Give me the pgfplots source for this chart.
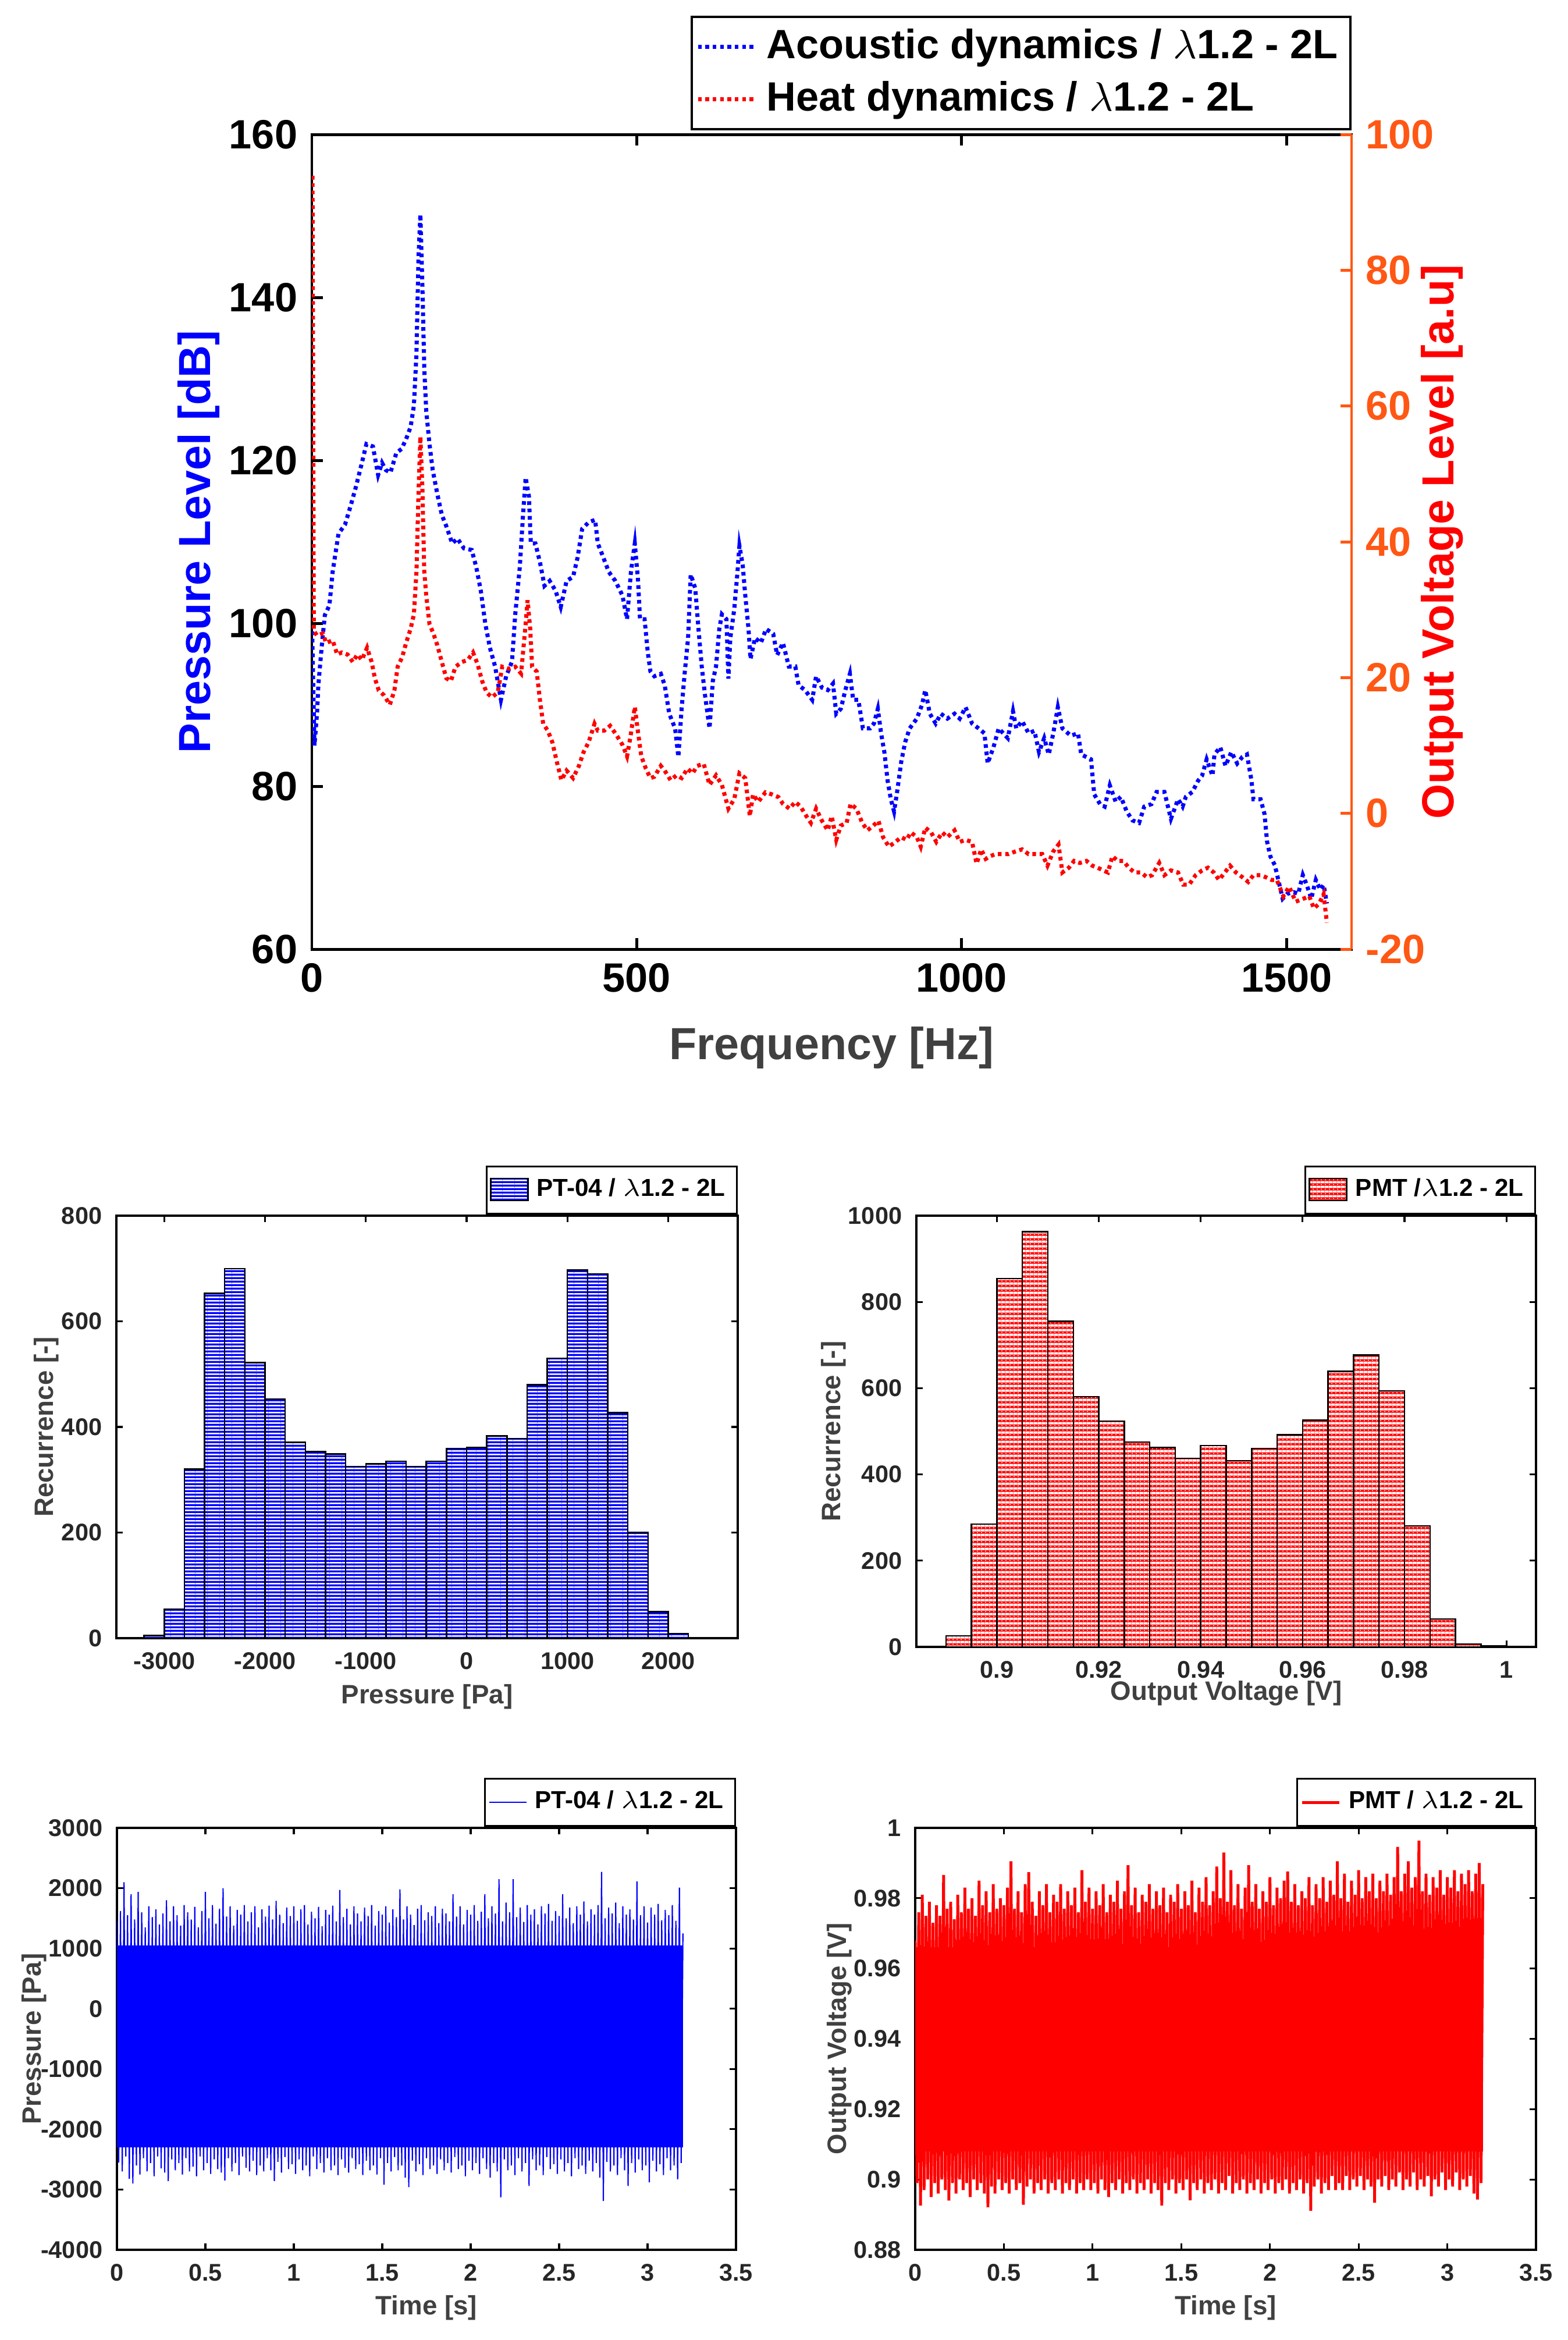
\documentclass[border=0pt]{standalone}
\usepackage{fontspec}
\setmainfont{Liberation Sans}
\usepackage{pgfplots}
\pgfplotsset{compat=1.18}
\usetikzlibrary{patterns}

\definecolor{axorange}{RGB}{255,87,20}
\definecolor{labgray}{RGB}{64,64,64}
\definecolor{tickblack}{RGB}{38,38,38}

% hatched fills of the two histograms
\pgfdeclarepatterninherentlycolored{bluehatch}{\pgfpointorigin}{\pgfpoint{3pt}{0.8pt}}{\pgfpoint{3pt}{0.8pt}}{%
  \pgfsetfillcolor{blue}\pgfpathrectangle{\pgfpointorigin}{\pgfpoint{3pt}{0.8pt}}\pgfusepath{fill}%
  \pgfsetfillcolor{white}\pgfpathrectangle{\pgfpointorigin}{\pgfpoint{3pt}{0.28pt}}\pgfusepath{fill}}
\pgfdeclarepatterninherentlycolored{redhatch}{\pgfpointorigin}{\pgfpoint{1pt}{1.1pt}}{\pgfpoint{1pt}{1.1pt}}{%
  \pgfsetfillcolor{red}\pgfpathrectangle{\pgfpointorigin}{\pgfpoint{1pt}{1.1pt}}\pgfusepath{fill}%
  \pgfsetfillcolor{white}\pgfpathrectangle{\pgfpointorigin}{\pgfpoint{1pt}{0.5pt}}\pgfusepath{fill}%
  \pgfpathrectangle{\pgfpoint{0pt}{0.75pt}}{\pgfpoint{0.3pt}{0.15pt}}\pgfusepath{fill}}

\pgfplotsset{
  mat/.style={
    scale only axis,
    /pgf/number format/assume math mode=true,
    /pgf/number format/1000 sep={},
    scaled ticks=false,
    tick align=inside,
    axis line style={line width=0.45pt, black},
    tick style={black, line width=0.45pt},
    major tick length=1.6pt,
    tick label style={font=\fontsize{5.9}{7}\selectfont\bfseries, text=tickblack},
    label style={font=\fontsize{6.5}{7.5}\selectfont\bfseries, text=labgray},
    legend style={font=\fontsize{6}{7}\selectfont\bfseries, draw=black, line width=0.45pt,
      at={(1,1)}, anchor=south east, inner sep=0.8pt, yshift=0.3pt},
    legend cell align=left,
  },
  histleg/.style={legend image code/.code={\draw[##1] (0cm,-0.09cm) rectangle (0.32cm,0.1cm);}},
  lineleg/.style={legend image code/.code={\draw[##1] (0cm,0cm) -- (0.32cm,0cm);}},
  ylabat/.style={ylabel style={at={(axis description cs:#1,0.5)}, anchor=center}},
  xlabat/.style={xlabel style={at={(axis description cs:0.5,#1)}, anchor=center}},
}

\begin{document}
\begin{tikzpicture}
\path (0,0) rectangle (13.475,-20.105);

% ---------- spectrum, left axis (dB) ----------
\begin{axis}[mat,
  at={(2.68cm,-1.155cm)}, anchor=north west, width=8.935cm, height=7cm,
  xmin=0, xmax=1600, ymin=60, ymax=160,
  xtick={0,500,1000,1500}, ytick={60,80,...,160}, ytick pos=left,
  major tick length=2.7pt,
  axis line style={line width=0.7pt},
  tick style={line width=0.7pt},
  tick label style={font=\fontsize{10}{12}\selectfont\bfseries, text=black},
  label style={font=\fontsize{11}{13}\selectfont\bfseries},
  xlabel={Frequency [Hz]}, ylabel={Pressure Level [dB]}, ylabel style={text=blue},
  ylabat=-0.109, xlabat=-0.121,
  legend style={font=\fontsize{10}{11}\selectfont\bfseries, line width=0.6pt, inner sep=1pt, yshift=0.7pt},
  legend image code/.code={\draw[#1] (0cm,0cm) -- (0.5cm,0cm);},
]
\addplot[blue, line width=1pt, dash pattern=on 0.9pt off 0.9pt] coordinates {
(0.5,99)(4,85)(8,89)(10,92.4)(15,97)(20,101)(27,102.2)(32,106.3)(41,111)(51,112.1)(60,114.5)
(68,116.8)(77,119.7)(84,122)(94,121.7)(102,118.2)(108,119.7)(114,118.8)(121,118.5)(130,120.9)
(138,121.4)(145,122.6)(152,124.1)(157,126.7)(161,133.1)(164,144.7)(167,150.2)(170,141.8)
(173,131.3)(176,126.1)(181,122)(186,118.8)(193,115.9)(200,113.3)(207,111.9)(216,109.8)
(224,110.4)(234,109.2)(246,109)(253,106.9)(260,104)(267,99.9)(274,97)(282,94.7)(291,90.6)
(299,93.5)(308,95.3)(313,101.1)(320,106.9)(325,113.3)(329,117.9)(334,115.6)(337,109.8)
(344,109.8)(351,107.5)(358,104.6)(366,105.2)(375,104)(383,102)(392,105.2)(402,105.7)
(409,108.1)(416,111.6)(426,112.4)(436,112.7)(440,109.8)(447,108.4)(457,106.3)(467,105.2)
(478,103.4)(485,100.5)(491,106.3)(497,109.8)(502,105.2)(505,100.5)(512,100.5)(517,96.4)
(521,94.1)(527,93.5)(537,93.8)(543,92.4)(550,88.9)(559,87.1)(564,83.6)(569,89.5)(574,94.1)
(579,98.2)(583,106)(590,104.3)(595,99.3)(600,94.7)(605,91.2)(612,87.1)(617,92.9)(622,94.7)
(627,99.3)(631,101.1)(638,100.5)(641,93.2)(644,98.2)(650,101.7)(655,106.3)(658,109.5)
(663,107.2)(667,103.4)(672,99.3)(675,95.6)(682,98.2)(691,97.6)(699,99.3)(710,98.7)(716,96.1)
(725,97.6)(734,94.7)(744,94.7)(749,92.4)(759,91.8)(770,90.6)(776,93.5)(785,92.1)(794,91.8)
(802,92.6)(807,88.9)(814,89.5)(821,91.8)(828,93.8)(833,90.6)(841,90.6)(848,87.1)(859,87.1)
(865,87.7)(871,89.5)(876,86.5)(881,84.2)(886,80.7)(891,78.4)(896,76.9)(901,79.5)(907,83)
(913,85.4)(920,87.1)(931,88.3)(939,90)(944,91.8)(951,88.9)(960,87.7)(968,88.9)(978,88.3)
(989,88.9)(997,88.3)(1006,89.7)(1016,87.7)(1026,87.1)(1035,86.5)(1040,82.8)(1049,84.8)
(1057,87.1)(1071,85.9)(1079,89.2)(1084,87.1)(1093,88)(1103,86.5)(1112,86.8)(1119,84.2)
(1127,85.9)(1134,83.9)(1141,86.5)(1148,89.7)(1155,87.1)(1168,86.2)(1179,86.5)(1184,83.9)
(1199,83.3)(1204,79)(1213,77.8)(1220,77.5)(1228,80.1)(1237,78.1)(1245,78.7)(1254,76.9)
(1263,75.8)(1273,75.5)(1281,77.5)(1292,77.8)(1300,79.3)(1312,79.3)(1322,76)(1333,78.4)
(1340,77.5)(1345,78.7)(1355,79.3)(1364,80.7)(1370,81.3)(1377,83.3)(1386,81.3)(1389,83.9)
(1398,84.8)(1406,82.5)(1415,84.2)(1424,82.8)(1432,83.6)(1439,83.9)(1446,80.7)(1449,78.4)
(1460,78.4)(1466,76.6)(1470,73.2)(1475,71.4)(1482,70.3)(1489,67.9)(1494,66.2)(1501,66.8)
(1511,67)(1518,66.8)(1525,69.1)(1531,67.9)(1538,66.2)(1545,68.5)(1552,67.3)(1557,67.9)(1562,65.6)
};
\addlegendentry{Acoustic dynamics / $\lambda$1.2 - 2L}
\addlegendimage{red, line width=1pt, dash pattern=on 0.9pt off 0.9pt}
\addlegendentry{Heat dynamics / $\lambda$1.2 - 2L}
\end{axis}

% ---------- spectrum, right axis (a.u.) ----------
\begin{axis}[mat,
  at={(2.68cm,-1.155cm)}, anchor=north west, width=8.935cm, height=7cm,
  xmin=0, xmax=1600, ymin=-20, ymax=100,
  axis x line=none, axis y line*=right,
  ytick={-20,0,...,100},
  major tick length=2.7pt,
  y axis line style={axorange, line width=0.5pt},
  ytick style={axorange, line width=0.7pt},
  tick label style={font=\fontsize{10}{12}\selectfont\bfseries, text=axorange},
  label style={font=\fontsize{11}{13}\selectfont\bfseries},
  ylabel={Output Voltage Level [a.u]}, ylabel style={text=red},
  ylabat=1.0873,
]
\addplot[red, line width=1pt, dash pattern=on 0.9pt off 0.9pt] coordinates {
(1,93.9)(3,26.9)(8,26.2)(17,26.5)(22,25.1)(32,25.5)(39,23.4)(46,23.7)(55,23.4)(63,22.3)(70,23.4)
(77,22.6)(85,24.4)(92,22.3)(97,19.9)(103,18.1)(111,17.4)(120,16)(127,18.1)(132,21.6)(139,23)
(145,25.1)(152,27.2)(157,29.3)(161,35.6)(164,46.7)(167,55.5)(170,48.2)(173,35.6)(176,32.1)
(181,27.9)(187,26.5)(193,24.8)(200,22.3)(207,19.9)(214,19.5)(221,21.6)(231,22.3)(240,22.6)
(248,23.7)(255,22)(262,19.5)(269,17.8)(277,17.1)(286,17.8)(293,21.6)(303,21.3)(313,21.6)
(322,20.6)(325,23.7)(329,27.9)(332,31.4)(336,27.2)(339,21.6)(346,20.9)(351,16.7)(356,13.2)
(363,12.2)(370,10.5)(377,7.6)(384,4.9)(392,6.3)(402,5.2)(411,7)(418,9)(426,10.5)(435,13.2)
(440,12.2)(450,12.2)(459,12.9)(469,11.5)(478,10.1)(485,8.4)(490,11.1)(497,15.7)(502,11.9)
(507,8.4)(514,6.6)(521,5.2)(527,5.4)(537,7)(543,6.3)(552,4.9)(561,5.6)(569,5.2)(578,6.6)
(586,5.9)(593,7)(603,7.3)(612,4.2)(622,5.6)(631,4.2)(641,0.7)(650,2.1)(658,5.9)(667,5.2)
(674,-0.4)(679,2.8)(687,1.7)(698,3.1)(708,2.8)(718,2.4)(725,1.4)(735,0.7)(744,1.7)(752,1)
(761,-0.4)(768,-1.4)(776,0.7)(785,-1.1)(794,-2.5)(800,-0.4)(807,-3.9)(814,-1.8)(823,-1.4)
(829,1.4)(838,0.7)(847,-1.4)(855,-2.5)(864,-1.8)(872,-1.1)(879,-3.5)(888,-4.9)(898,-4.2)
(907,-3.5)(915,-3.9)(922,-2.8)(931,-3.5)(937,-4.9)(944,-2.1)(953,-2.8)(961,-4.2)(970,-2.8)
(978,-3.5)(989,-2.5)(997,-4.2)(1006,-3.9)(1016,-4.2)(1023,-7.4)(1030,-5.3)(1037,-6.7)
(1044,-6.3)(1052,-6)(1059,-6)(1072,-6)(1083,-5.6)(1093,-5.3)(1103,-6)(1113,-6)(1124,-6)
(1132,-7.7)(1141,-5.6)(1149,-4.6)(1155,-8.7)(1165,-8)(1173,-7)(1182,-7.3)(1192,-7)(1201,-7.7)
(1209,-8)(1218,-8.4)(1225,-8.7)(1232,-6.3)(1240,-7)(1249,-7)(1257,-8)(1266,-8.7)(1276,-8.7)
(1285,-9.4)(1293,-9.1)(1304,-7.3)(1312,-9.1)(1322,-8.4)(1333,-8.7)(1341,-10.5)(1350,-10.5)
(1360,-9.1)(1370,-8.4)(1379,-8)(1388,-8.7)(1396,-9.8)(1405,-8.7)(1413,-7.7)(1422,-8.7)
(1432,-9.4)(1441,-10.1)(1449,-9.1)(1460,-9.1)(1468,-9.4)(1477,-9.8)(1485,-9.8)(1495,-12.2)
(1504,-10.8)(1514,-13)(1525,-12.6)(1535,-12.2)(1542,-14)(1550,-13.3)(1557,-11.9)(1562,-16.1)
};
\end{axis}

% ---------- pressure histogram ----------
\begin{axis}[mat, histleg,
  at={(1.0cm,-10.445cm)}, anchor=north west, width=5.34cm, height=3.63cm,
  xmin=-3475, xmax=2690, ymin=0, ymax=800,
  xtick={-3000,-2000,...,2000}, ytick={0,200,...,800},
  xlabel={Pressure [Pa]}, ylabel={Recurrence [-]},
  ylabat=-0.113, xlabat=-0.138,
]
\addplot[ybar interval, draw=black, line width=0.35pt, pattern=bluehatch] coordinates {
(-3200,5)(-3000,55)(-2800,320)(-2600,653)(-2400,700)(-2200,522)(-2000,453)(-1800,371)
(-1600,353)(-1400,349)(-1200,325)(-1000,330)(-800,335)(-600,325)(-400,335)(-200,359)
(0,361)(200,383)(400,378)(600,480)(800,530)(1000,697)(1200,690)(1400,427)(1600,200)
(1800,50)(2000,9)(2200,1)(2400,1)
};
\addlegendentry{PT-04 / $\lambda$1.2 - 2L}
\end{axis}

% ---------- PMT histogram ----------
\begin{axis}[mat, histleg,
  at={(7.875cm,-10.445cm)}, anchor=north west, width=5.325cm, height=3.705cm,
  xmin=0.8842, xmax=1.0058, ymin=0, ymax=1000,
  xtick={0.9,0.92,0.94,0.96,0.98,1}, xticklabels={0.9,0.92,0.94,0.96,0.98,1},
  ytick={0,200,...,1000},
  xlabel={Output Voltage [V]}, ylabel={Recurrence [-]},
  ylabat=-0.134, xlabat=-0.107,
]
\addplot[ybar interval, draw=black, line width=0.35pt, pattern=redhatch] coordinates {
(0.890,26)(0.895,285)(0.900,854)(0.905,963)(0.910,755)(0.915,580)(0.920,524)(0.925,475)
(0.930,462)(0.935,437)(0.940,467)(0.945,432)(0.950,460)(0.955,492)(0.960,526)(0.965,639)
(0.970,677)(0.975,594)(0.980,281)(0.985,65)(0.990,7)(0.995,2)(1.000,2)
};
\addlegendentry{PMT /$\lambda$1.2 - 2L}
\end{axis}

% ---------- pressure time series ----------
\begin{axis}[mat, lineleg,
  at={(1.005cm,-15.705cm)}, anchor=north west, width=5.32cm, height=3.625cm,
  xmin=0, xmax=3.5, ymin=-4000, ymax=3000,
  xtick={0,0.5,...,3.5}, ytick={-4000,-3000,...,3000},
  xlabel={Time [s]}, ylabel={Pressure [Pa]},
  ylabat=-0.1335, xlabat=-0.138,
]
\addplot[fill=blue, draw=none, forget plot] coordinates {(0,1050)(3.2,1050)(3.2,-2300)(0,-2300)} -- cycle;
\addplot[blue, line width=0.3pt] coordinates {
(0.00,1450)(0.01,-2550)(0.02,1620)(0.03,-2700)(0.04,2100)(0.05,-2450)(0.06,1550)(0.07,-2820)
(0.08,1900)(0.09,-2900)(0.10,1480)(0.11,-2600)(0.12,1940)(0.13,-2750)(0.14,1600)(0.15,-2480)
(0.16,1350)(0.17,-2700)(0.18,1700)(0.19,-2560)(0.20,1520)(0.21,-2780)(0.22,1650)(0.23,-2450)
(0.24,1400)(0.25,-2650)(0.26,1580)(0.27,-2720)(0.28,1800)(0.29,-2860)(0.30,1450)(0.31,-2500)
(0.32,1700)(0.33,-2680)(0.34,1550)(0.35,-2560)(0.36,1380)(0.37,-2750)(0.38,1720)(0.39,-2480)
(0.40,1600)(0.41,-2700)(0.42,1480)(0.43,-2620)(0.44,1690)(0.45,-2780)(0.46,1350)(0.47,-2450)
(0.48,1620)(0.49,-2680)(0.50,1940)(0.51,-2560)(0.52,1500)(0.53,-2740)(0.54,1720)(0.55,-2500)
(0.56,1410)(0.57,-2660)(0.58,1660)(0.59,-2720)(0.60,2000)(0.61,-2850)(0.62,1530)(0.63,-2480)
(0.64,1700)(0.65,-2700)(0.66,1380)(0.67,-2560)(0.68,1640)(0.69,-2760)(0.70,1560)(0.71,-2450)
(0.72,1720)(0.73,-2640)(0.74,1450)(0.75,-2700)(0.76,1600)(0.77,-2520)(0.78,1700)(0.79,-2760)
(0.80,1350)(0.81,-2600)(0.82,1650)(0.83,-2700)(0.84,1530)(0.85,-2480)(0.86,1710)(0.87,-2680)
(0.88,1480)(0.89,-2860)(0.90,1790)(0.91,-2540)(0.92,1560)(0.93,-2720)(0.94,1420)(0.95,-2460)
(0.96,1680)(0.97,-2660)(0.98,1540)(0.99,-2580)(1.00,1700)(1.01,-2740)(1.02,1460)(1.03,-2500)
(1.04,1650)(1.05,-2680)(1.06,1720)(1.07,-2600)(1.08,1400)(1.09,-2780)(1.10,1610)(1.11,-2450)
(1.12,1500)(1.13,-2660)(1.14,1690)(1.15,-2560)(1.16,1370)(1.17,-2720)(1.18,1640)(1.19,-2480)
(1.20,1560)(1.21,-2680)(1.22,1710)(1.23,-2600)(1.24,1450)(1.25,-2760)(1.26,1970)(1.27,-2500)
(1.28,1520)(1.29,-2640)(1.30,1660)(1.31,-2720)(1.32,1400)(1.33,-2480)(1.34,1700)(1.35,-2660)
(1.36,1580)(1.37,-2580)(1.38,1450)(1.39,-2760)(1.40,1680)(1.41,-2520)(1.42,1540)(1.43,-2680)
(1.44,1720)(1.45,-2600)(1.46,1380)(1.47,-2750)(1.48,1620)(1.49,-2480)(1.50,1560)(1.51,-2920)
(1.52,1700)(1.53,-2560)(1.54,1430)(1.55,-2700)(1.56,1650)(1.57,-2460)(1.58,1520)(1.59,-2680)
(1.60,1980)(1.61,-2600)(1.62,1480)(1.63,-2800)(1.64,1700)(1.65,-2960)(1.66,1560)(1.67,-2520)
(1.68,1390)(1.69,-2700)(1.70,1660)(1.71,-2580)(1.72,1720)(1.73,-2760)(1.74,1470)(1.75,-2480)
(1.76,1600)(1.77,-2660)(1.78,1540)(1.79,-2600)(1.80,1700)(1.81,-2740)(1.82,1420)(1.83,-2500)
(1.84,1660)(1.85,-2680)(1.86,1580)(1.87,-2560)(1.88,1450)(1.89,-2720)(1.90,1900)(1.91,-2460)
(1.92,1530)(1.93,-2660)(1.94,1700)(1.95,-2600)(1.96,1400)(1.97,-2780)(1.98,1640)(1.99,-2520)
(2.00,1560)(2.01,-2680)(2.02,1720)(2.03,-2560)(2.04,1460)(2.05,-2740)(2.06,1610)(2.07,-2480)
(2.08,1900)(2.09,-2660)(2.10,1500)(2.11,-2800)(2.12,1700)(2.13,-2560)(2.14,1580)(2.15,-2700)
(2.16,2150)(2.17,-3130)(2.18,1450)(2.19,-2500)(2.20,1760)(2.21,-2680)(2.22,1600)(2.23,-2600)
(2.24,2150)(2.25,-2760)(2.26,1520)(2.27,-2480)(2.28,1680)(2.29,-2700)(2.30,1440)(2.31,-2560)
(2.32,1720)(2.33,-2940)(2.34,1560)(2.35,-2500)(2.36,1650)(2.37,-2680)(2.38,1400)(2.39,-2600)
(2.40,1700)(2.41,-2760)(2.42,1580)(2.43,-2460)(2.44,1740)(2.45,-2660)(2.46,1460)(2.47,-2580)
(2.48,1620)(2.49,-2740)(2.50,1540)(2.51,-2500)(2.52,1900)(2.53,-2700)(2.54,1500)(2.55,-2560)
(2.56,1680)(2.57,-2780)(2.58,1420)(2.59,-2480)(2.60,1700)(2.61,-2660)(2.62,1560)(2.63,-2600)
(2.64,1780)(2.65,-2740)(2.66,1450)(2.67,-2520)(2.68,1650)(2.69,-2700)(2.70,1560)(2.71,-2560)
(2.72,1720)(2.73,-2800)(2.74,2270)(2.75,-3190)(2.76,1500)(2.77,-2540)(2.78,1680)(2.79,-2700)
(2.80,1580)(2.81,-2600)(2.82,1760)(2.83,-2760)(2.84,1420)(2.85,-2480)(2.86,1700)(2.87,-2680)
(2.88,1560)(2.89,-2940)(2.90,1650)(2.91,-2560)(2.92,1480)(2.93,-2720)(2.94,2110)(2.95,-2500)
(2.96,1550)(2.97,-2680)(2.98,1700)(2.99,-2600)(3.00,1430)(3.01,-2880)(3.02,1680)(3.03,-2520)
(3.04,1560)(3.05,-2700)(3.06,1740)(3.07,-2580)(3.08,1470)(3.09,-2760)(3.10,1640)(3.11,-2480)
(3.12,1550)(3.13,-2680)(3.14,1720)(3.15,-2600)(3.16,1460)(3.17,-2830)(3.18,2010)(3.19,-2560)
(3.20,1250)
};
\addlegendentry{PT-04 / $\lambda$1.2 - 2L}
\end{axis}

% ---------- PMT time series ----------
\begin{axis}[mat, lineleg,
  at={(7.865cm,-15.705cm)}, anchor=north west, width=5.335cm, height=3.625cm,
  xmin=0, xmax=3.5, ymin=0.88, ymax=1,
  xtick={0,0.5,...,3.5},
  ytick={0.88,0.9,0.92,0.94,0.96,0.98,1}, yticklabels={0.88,0.9,0.92,0.94,0.96,0.98,1},
  xlabel={Time [s]}, ylabel={Output Voltage [V]},
  ylabat=-0.122, xlabat=-0.138,
]
\addplot[fill=red, draw=none, forget plot] coordinates {(0,0.966)(3.2,0.966)(3.2,0.908)(0,0.908)} -- cycle;
\addplot[red, line width=0.7pt] coordinates {
(0.00,0.968)(0.01,0.899)(0.02,0.976)(0.03,0.8926)(0.04,0.981)(0.05,0.897)(0.06,0.975)(0.07,0.900)
(0.08,0.979)(0.09,0.895)(0.10,0.973)(0.11,0.899)(0.12,0.978)(0.13,0.896)(0.14,0.975)(0.15,0.900)
(0.16,0.9866)(0.17,0.897)(0.18,0.977)(0.19,0.894)(0.20,0.979)(0.21,0.899)(0.22,0.974)(0.23,0.896)
(0.24,0.981)(0.25,0.900)(0.26,0.976)(0.27,0.897)(0.28,0.983)(0.29,0.899)(0.30,0.977)(0.31,0.895)
(0.32,0.980)(0.33,0.900)(0.34,0.975)(0.35,0.897)(0.36,0.985)(0.37,0.899)(0.38,0.978)(0.39,0.896)
(0.40,0.982)(0.41,0.8921)(0.42,0.976)(0.43,0.898)(0.44,0.984)(0.45,0.896)(0.46,0.977)(0.47,0.900)
(0.48,0.980)(0.49,0.897)(0.50,0.978)(0.51,0.899)(0.52,0.983)(0.53,0.896)(0.54,0.9905)(0.55,0.900)
(0.56,0.977)(0.57,0.897)(0.58,0.982)(0.59,0.899)(0.60,0.976)(0.61,0.8928)(0.62,0.984)(0.63,0.898)
(0.64,0.9874)(0.65,0.900)(0.66,0.979)(0.67,0.896)(0.68,0.975)(0.69,0.899)(0.70,0.982)(0.71,0.897)
(0.72,0.978)(0.73,0.900)(0.74,0.984)(0.75,0.896)(0.76,0.976)(0.77,0.899)(0.78,0.981)(0.79,0.897)
(0.80,0.979)(0.81,0.900)(0.82,0.984)(0.83,0.896)(0.84,0.977)(0.85,0.899)(0.86,0.982)(0.87,0.897)
(0.88,0.978)(0.89,0.900)(0.90,0.983)(0.91,0.896)(0.92,0.976)(0.93,0.899)(0.94,0.988)(0.95,0.897)
(0.96,0.979)(0.97,0.900)(0.98,0.983)(0.99,0.897)(1.00,0.977)(1.01,0.899)(1.02,0.982)(1.03,0.896)
(1.04,0.978)(1.05,0.900)(1.06,0.984)(1.07,0.897)(1.08,0.976)(1.09,0.895)(1.10,0.981)(1.11,0.899)
(1.12,0.979)(1.13,0.897)(1.14,0.985)(1.15,0.900)(1.16,0.977)(1.17,0.896)(1.18,0.982)(1.19,0.899)
(1.20,0.9894)(1.21,0.897)(1.22,0.978)(1.23,0.900)(1.24,0.983)(1.25,0.896)(1.26,0.976)(1.27,0.899)
(1.28,0.981)(1.29,0.897)(1.30,0.979)(1.31,0.900)(1.32,0.984)(1.33,0.896)(1.34,0.977)(1.35,0.899)
(1.36,0.982)(1.37,0.897)(1.38,0.978)(1.39,0.8926)(1.40,0.983)(1.41,0.899)(1.42,0.976)(1.43,0.897)
(1.44,0.981)(1.45,0.900)(1.46,0.979)(1.47,0.896)(1.48,0.984)(1.49,0.899)(1.50,0.977)(1.51,0.897)
(1.52,0.982)(1.53,0.900)(1.54,0.978)(1.55,0.8941)(1.56,0.985)(1.57,0.899)(1.58,0.976)(1.59,0.897)
(1.60,0.983)(1.61,0.900)(1.62,0.979)(1.63,0.896)(1.64,0.986)(1.65,0.899)(1.66,0.978)(1.67,0.897)
(1.68,0.982)(1.69,0.900)(1.70,0.989)(1.71,0.896)(1.72,0.980)(1.73,0.899)(1.74,0.993)(1.75,0.897)
(1.76,0.979)(1.77,0.901)(1.78,0.988)(1.79,0.896)(1.80,0.978)(1.81,0.899)(1.82,0.984)(1.83,0.897)
(1.84,0.977)(1.85,0.900)(1.86,0.983)(1.87,0.896)(1.88,0.9894)(1.89,0.899)(1.90,0.979)(1.91,0.897)
(1.92,0.984)(1.93,0.900)(1.94,0.977)(1.95,0.896)(1.96,0.982)(1.97,0.899)(1.98,0.979)(1.99,0.897)
(2.00,0.986)(2.01,0.900)(2.02,0.978)(2.03,0.896)(2.04,0.983)(2.05,0.899)(2.06,0.980)(2.07,0.897)
(2.08,0.985)(2.09,0.900)(2.10,0.9876)(2.11,0.896)(2.12,0.979)(2.13,0.899)(2.14,0.984)(2.15,0.897)
(2.16,0.978)(2.17,0.900)(2.18,0.982)(2.19,0.896)(2.20,0.980)(2.21,0.899)(2.22,0.986)(2.23,0.8911)
(2.24,0.978)(2.25,0.898)(2.26,0.984)(2.27,0.900)(2.28,0.980)(2.29,0.896)(2.30,0.986)(2.31,0.899)
(2.32,0.979)(2.33,0.897)(2.34,0.985)(2.35,0.901)(2.36,0.981)(2.37,0.897)(2.38,0.9905)(2.39,0.899)
(2.40,0.980)(2.41,0.897)(2.42,0.987)(2.43,0.901)(2.44,0.979)(2.45,0.897)(2.46,0.985)(2.47,0.900)
(2.48,0.981)(2.49,0.898)(2.50,0.988)(2.51,0.901)(2.52,0.980)(2.53,0.897)(2.54,0.986)(2.55,0.900)
(2.56,0.982)(2.57,0.898)(2.58,0.987)(2.59,0.8934)(2.60,0.980)(2.61,0.900)(2.62,0.985)(2.63,0.898)
(2.64,0.982)(2.65,0.901)(2.66,0.987)(2.67,0.897)(2.68,0.981)(2.69,0.900)(2.70,0.986)(2.71,0.898)
(2.72,0.9946)(2.73,0.902)(2.74,0.982)(2.75,0.897)(2.76,0.987)(2.77,0.900)(2.78,0.9905)(2.79,0.898)
(2.80,0.983)(2.81,0.902)(2.82,0.986)(2.83,0.897)(2.84,0.9964)(2.85,0.900)(2.86,0.982)(2.87,0.898)
(2.88,0.987)(2.89,0.901)(2.90,0.981)(2.91,0.8952)(2.92,0.986)(2.93,0.900)(2.94,0.983)(2.95,0.898)
(2.96,0.988)(2.97,0.902)(2.98,0.981)(2.99,0.897)(3.00,0.986)(3.01,0.900)(3.02,0.983)(3.03,0.898)
(3.04,0.988)(3.05,0.902)(3.06,0.982)(3.07,0.897)(3.08,0.987)(3.09,0.900)(3.10,0.984)(3.11,0.898)
(3.12,0.988)(3.13,0.901)(3.14,0.982)(3.15,0.896)(3.16,0.987)(3.17,0.8943)(3.18,0.990)(3.19,0.899)
(3.20,0.984)
};
\addlegendentry{PMT / $\lambda$1.2 - 2L}
\end{axis}
\end{tikzpicture}
\end{document}
